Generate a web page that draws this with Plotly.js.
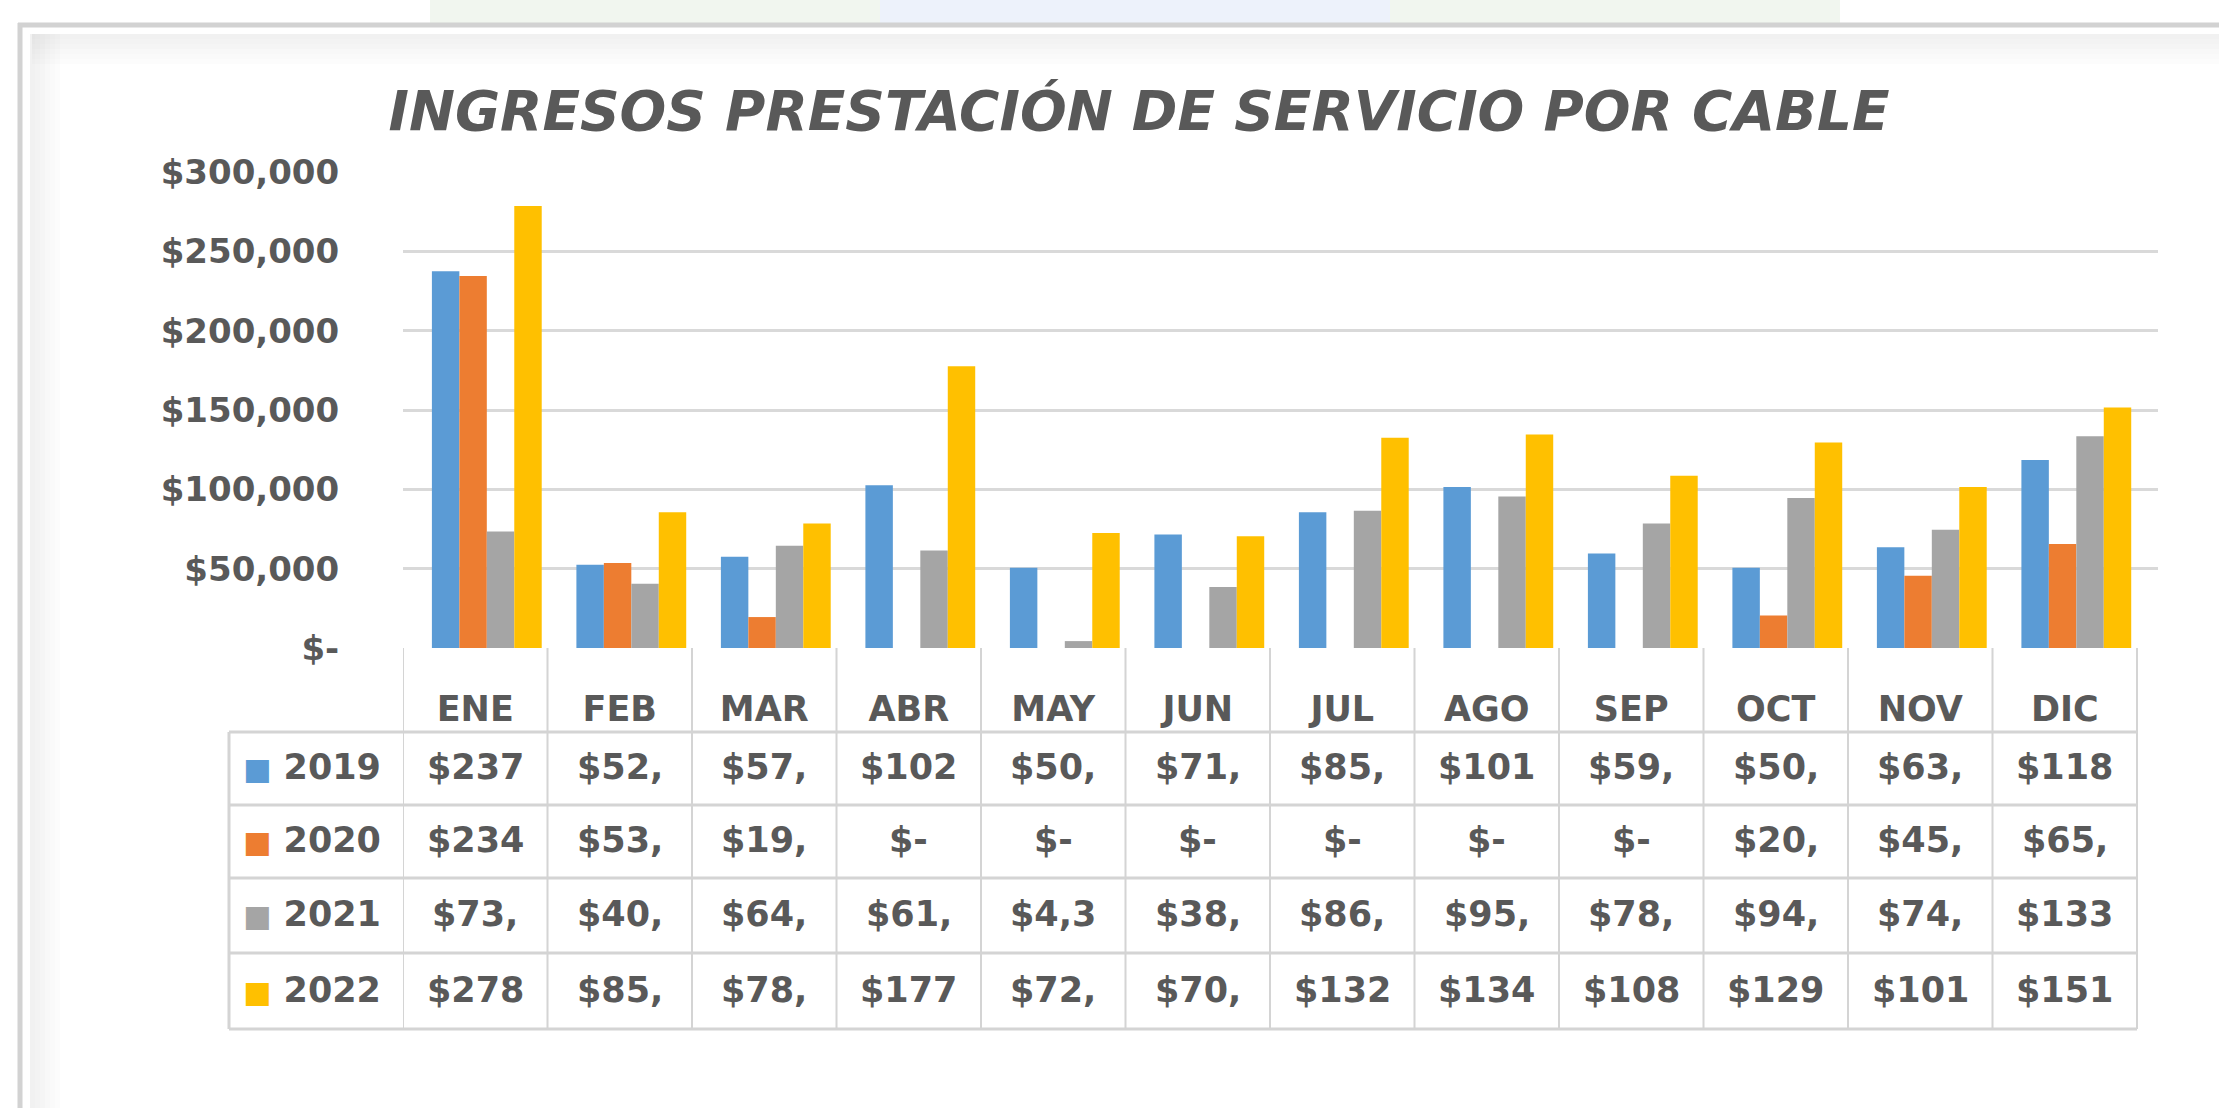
<!DOCTYPE html>
<html>
<head>
<meta charset="utf-8">
<script src="https://cdn.plot.ly/plotly-3.0.1.min.js"></script>
<style>
  html, body { margin: 0; padding: 0; background: #ffffff; }
  #chart { width: 2219px; height: 1108px; }
</style>
</head>
<body>
<div id="chart"></div>
<script>
// ---------------- DATA ----------------
const months = ['ENE','FEB','MAR','ABR','MAY','JUN','JUL','AGO','SEP','OCT','NOV','DIC'];
const years = ['2019','2020','2021','2022'];
const v2019 = [237500, 52500, 57500, 102500, 50500, 71500, 85500, 101500, 59500, 50500, 63500, 118500];
const v2020 = [234500, 53500, 19500, 0, 0, 0, 0, 0, 0, 20500, 45500, 65500];
const v2021 = [73500, 40500, 64500, 61500, 4350, 38500, 86500, 95500, 78500, 94500, 74500, 133500];
const v2022 = [278500, 85500, 78500, 177500, 72500, 70500, 132500, 134500, 108500, 129500, 101500, 151500];
const yTickVals = [0, 50000, 100000, 150000, 200000, 250000, 300000];
const yTickText = ['$-', '$50,000', '$100,000', '$150,000', '$200,000', '$250,000', '$300,000'];
const titleText = 'INGRESOS PRESTACIÓN DE SERVICIO POR CABLE';

// ---------------- STYLE ----------------
const series = [v2019, v2020, v2021, v2022];
const colors = ['#5B9BD5', '#ED7D31', '#A5A5A5', '#FFC000'];
const textColor = '#595959';
const font = 'DejaVu Sans, Verdana, sans-serif';
const lineColor = '#d4d4d4';

// plot-area geometry (pixels)
const W = 2219, H = 1108;
const L = 403, R = 2158, T = 172, B = 648;
const colW = (2137 - L) / 12;            // table column width in px
const xMax = 11.5 + (R - 2137) / colW;   // gridlines run a little past the table
const px2py = y => (B - y) / (B - T);
const px2px = x => (x - L) / (R - L);

const barW = 0.19;
const offsets = [-0.30, -0.11, 0.08, 0.27];

const traces = series.map((vals, i) => ({
  type: 'bar',
  name: years[i],
  x: months,
  y: vals,
  width: barW,
  offset: offsets[i],
  marker: { color: colors[i], line: { width: 0 } },
  hoverinfo: 'x+y+name',
  showlegend: false
}));

// ---------------- TABLE (annotations + shapes) ----------------
function fmt(v) {
  if (v === 0) return '$-';
  return ('$' + v.toLocaleString('en-US')).slice(0, 4);
}
const rowCentersPx = [767, 840, 914, 990];
const rowBordersPx = [732, 805, 878, 953, 1029];
const tableLeftPx = 229;
const tFont = { family: font, size: 35, color: textColor, weight: 'bold' };

const annotations = [];
series.forEach((vals, r) => {
  vals.forEach((v, c) => {
    annotations.push({
      xref: 'x', yref: 'paper', x: months[c], y: px2py(rowCentersPx[r]),
      text: fmt(v), showarrow: false, xanchor: 'center', yanchor: 'middle',
      font: tFont
    });
  });
  annotations.push({
    xref: 'paper', yref: 'paper', x: px2px(tableLeftPx + 12), y: px2py(rowCentersPx[r]),
    text: '<span style="color:' + colors[r] + ';font-size:30px">■</span> ' + years[r],
    showarrow: false, xanchor: 'left', yanchor: 'middle',
    font: tFont
  });
});

const shapes = [];
// faint blurred picture strip above the slide frame
shapes.push({ type: 'rect', xref: 'paper', yref: 'paper', layer: 'below',
  x0: px2px(430), x1: px2px(1840), y0: px2py(0), y1: px2py(23),
  line: { width: 0 }, fillcolor: '#f1f6ef' });
shapes.push({ type: 'rect', xref: 'paper', yref: 'paper', layer: 'below',
  x0: px2px(880), x1: px2px(1390), y0: px2py(0), y1: px2py(23),
  line: { width: 0 }, fillcolor: '#edf2fb' });
// horizontal table lines
rowBordersPx.forEach(y => {
  shapes.push({ type: 'line', xref: 'paper', yref: 'paper',
    x0: px2px(tableLeftPx), x1: px2px(2137), y0: px2py(y), y1: px2py(y),
    line: { color: lineColor, width: 3 } });
});
// left vertical table line
shapes.push({ type: 'line', xref: 'paper', yref: 'paper',
  x0: px2px(tableLeftPx), x1: px2px(tableLeftPx), y0: px2py(rowBordersPx[0]), y1: px2py(rowBordersPx[4]),
  line: { color: lineColor, width: 3 } });
// vertical column separators (category boundaries)
for (let i = 0; i <= months.length; i++) {
  shapes.push({ type: 'line', xref: 'x', yref: 'paper',
    x0: i - 0.5, x1: i - 0.5, y0: 0, y1: px2py(rowBordersPx[4]),
    line: { color: lineColor, width: 2 } });
}
// slide frame: top and left border with soft inner shadow
shapes.push({ type: 'line', xref: 'paper', yref: 'paper', layer: 'below',
  x0: px2px(18), x1: px2px(W + 10), y0: px2py(25), y1: px2py(25),
  line: { color: '#d2d2d2', width: 5 } });
shapes.push({ type: 'line', xref: 'paper', yref: 'paper', layer: 'below',
  x0: px2px(20), x1: px2px(20), y0: px2py(23), y1: px2py(H + 10),
  line: { color: '#d2d2d2', width: 5 } });
for (let k = 0; k < 6; k++) {
  const op = 0.10 - k * 0.015;
  shapes.push({ type: 'rect', xref: 'paper', yref: 'paper', layer: 'below',
    x0: px2px(32), x1: px2px(W + 10), y0: px2py(34 + k * 5), y1: px2py(39 + k * 5),
    line: { width: 0 }, fillcolor: 'rgba(120,120,120,' + op.toFixed(3) + ')' });
  shapes.push({ type: 'rect', xref: 'paper', yref: 'paper', layer: 'below',
    x0: px2px(30 + k * 5), x1: px2px(35 + k * 5), y0: px2py(34), y1: px2py(H + 10),
    line: { width: 0 }, fillcolor: 'rgba(120,120,120,' + op.toFixed(3) + ')' });
}

const layout = {
  width: W, height: H,
  paper_bgcolor: '#ffffff', plot_bgcolor: 'rgba(0,0,0,0)',
  margin: { l: L, r: W - R, t: T, b: H - B, pad: 0 },
  barmode: 'overlay',
  title: {
    text: titleText, xref: 'container', yref: 'container',
    x: 1139 / W, y: 1 - 111 / H, xanchor: 'center', yanchor: 'middle',
    font: { family: font, size: 55, color: textColor, style: 'italic', weight: 'bold' }
  },
  xaxis: {
    type: 'category', range: [-0.5, xMax], showgrid: false, showline: false, zeroline: false,
    ticks: 'outside', ticklen: 30, tickcolor: 'rgba(0,0,0,0)',
    tickfont: { family: font, size: 35, color: textColor, weight: 'bold' }
  },
  yaxis: {
    range: [0, 300000], tickvals: yTickVals, ticktext: yTickText,
    showgrid: true, gridcolor: '#d9d9d9', gridwidth: 3, zeroline: false, showline: false,
    ticks: 'outside', ticklen: 56, tickcolor: 'rgba(0,0,0,0)',
    tickfont: { family: font, size: 34, color: textColor, weight: 'bold' }
  },
  annotations: annotations,
  shapes: shapes
};

Plotly.newPlot('chart', traces, layout, { displayModeBar: false, staticPlot: true });
</script>
</body>
</html>
